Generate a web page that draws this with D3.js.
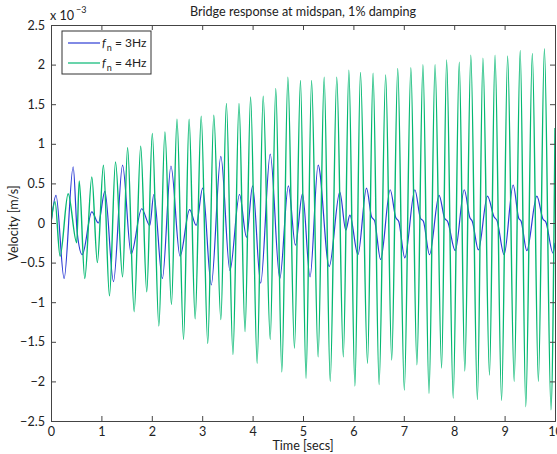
<!DOCTYPE html>
<html>
<head>
<meta charset="utf-8">
<script src="https://cdn.jsdelivr.net/npm/d3@7"></script>
<style>
  html, body { margin: 0; padding: 0; background: #fff; }
  svg { display: block; font-family: Lato, "Open Sans", sans-serif; }
</style>
</head>
<body>
<svg id="chart" width="557" height="454"></svg>
<script>
// Velocity at bridge midspan (units of 1e-3 m/s), read as successive extrema of each trace.
// f_n = 3 Hz
const blueT = [0.00, 0.10, 0.26, 0.44, 0.52, 0.62, 0.81, 0.94, 1.07, 1.24, 1.42, 1.59, 1.80, 1.96, 2.04,
  2.21, 2.38, 2.56, 2.75, 2.88, 3.01, 3.18, 3.37, 3.55, 3.74, 3.88, 4.00, 4.16, 4.35, 4.54,
  4.71, 4.85, 4.99, 5.14, 5.30, 5.52, 5.73, 5.85, 5.93, 6.09, 6.26, 6.36, 6.42, 6.54, 6.73,
  6.84, 6.90, 7.02, 7.22, 7.33, 7.39, 7.51, 7.70, 7.81, 7.87, 8.02, 8.20, 8.31, 8.36, 8.48,
  8.66, 8.79, 8.85, 8.99, 9.17, 9.28, 9.33, 9.44, 9.64, 9.76, 9.82, 9.96, 10.00];
const blueV = [0.00, 0.35, -0.70, 0.71, -0.12, -0.40, 0.14, 0.00, 0.40, -0.74, 0.73, -0.39, 0.18, -0.03, 0.36,
  -0.70, 0.72, -0.42, 0.17, -0.03, 0.44, -0.78, 0.84, -0.60, 0.36, -0.18, 0.47, -0.76, 0.87, -0.70,
  0.47, -0.28, 0.37, -0.68, 0.73, -0.55, 0.39, -0.09, 0.10, -0.40, 0.44, 0.08, 0.03, -0.46, 0.42,
  0.07, 0.02, -0.44, 0.42, 0.06, 0.02, -0.40, 0.35, 0.06, 0.02, -0.35, 0.42, 0.07, 0.02, -0.34,
  0.34, 0.08, 0.03, -0.40, 0.48, 0.06, 0.02, -0.35, 0.34, 0.05, 0.01, -0.38, -0.25];

// f_n = 4 Hz
const greenT = [0.00, 0.08, 0.18, 0.34, 0.51, 0.56, 0.67, 0.81, 0.92, 1.04, 1.16, 1.28, 1.42, 1.52, 1.65,
  1.78, 1.90, 2.01, 2.14, 2.26, 2.39, 2.50, 2.63, 2.74, 2.86, 2.98, 3.11, 3.23, 3.37, 3.48,
  3.61, 3.73, 3.85, 3.96, 4.09, 4.21, 4.35, 4.46, 4.58, 4.70, 4.83, 4.95, 5.06, 5.17, 5.30,
  5.42, 5.54, 5.67, 5.80, 5.91, 6.03, 6.14, 6.28, 6.39, 6.51, 6.64, 6.76, 6.88, 7.01, 7.14,
  7.26, 7.38, 7.50, 7.62, 7.75, 7.85, 7.98, 8.10, 8.21, 8.33, 8.46, 8.57, 8.70, 8.81, 8.94,
  9.06, 9.19, 9.31, 9.42, 9.55, 9.67, 9.79, 9.92, 10.00];
const greenV = [0.00, 0.27, -0.42, 0.37, -0.25, 0.53, -0.70, 0.58, -0.50, 0.73, -0.92, 0.77, -0.68, 0.95, -1.12,
  0.97, -0.87, 1.13, -1.30, 1.15, -1.03, 1.31, -1.47, 1.31, -1.21, 1.35, -1.52, 1.36, -1.22, 1.51,
  -1.66, 1.51, -1.37, 1.59, -1.77, 1.60, -1.47, 1.70, -1.88, 1.84, -1.58, 1.80, -1.96, 1.80, -1.69,
  1.84, -2.00, 1.84, -1.69, 1.93, -2.06, 1.90, -1.77, 1.89, -2.04, 1.87, -1.73, 1.95, -2.11, 1.96,
  -1.79, 2.00, -2.15, 2.00, -1.83, 2.06, -2.21, 2.03, -1.87, 2.12, -2.23, 2.08, -1.92, 2.12, -2.24,
  2.11, -2.00, 2.18, -2.32, 2.14, -2.00, 2.20, -2.36, 1.20];

const xTicks = [0, 1, 2, 3, 4, 5, 6, 7, 8, 9, 10];
const yTicks = [-2.5, -2, -1.5, -1, -0.5, 0, 0.5, 1, 1.5, 2, 2.5];
const seriesNames = ["3Hz", "4Hz"];
const seriesColors = ["#2c3cd4", "#05b872"];

const svg = d3.select("#chart");
const plot = { left: 51, right: 555, top: 25, bottom: 421 };
const fontSize = 12.6;

const x = d3.scaleLinear().domain([0, 10]).range([plot.left, plot.right]);
const y = d3.scaleLinear().domain([-2.5, 2.5]).range([plot.bottom, plot.top]);

const axisColor = "#444";
const textColor = "#222";
const fmt = d => d3.format("")(d).replace("-", "\u2212");

svg.append("clipPath").attr("id", "clip")
  .append("rect")
  .attr("x", plot.left).attr("y", plot.top)
  .attr("width", plot.right - plot.left).attr("height", plot.bottom - plot.top);

// Traces
const line = d3.line()
  .x(d => x(d[0]))
  .y(d => y(d[1]))
  .curve(d3.curveMonotoneX);

const traces = [d3.zip(blueT, blueV), d3.zip(greenT, greenV)];
const g = svg.append("g").attr("clip-path", "url(#clip)");
traces.forEach((pts, i) => {
  g.append("path")
    .datum(pts)
    .attr("d", line)
    .attr("fill", "none")
    .attr("stroke", seriesColors[i])
    .attr("stroke-width", i === 1 ? 1.4 : 1.2)
    .attr("stroke-linejoin", "round");
});

// Axes box with inward ticks on all four sides
const tickLen = 5;
const axB = svg.append("g").attr("transform", `translate(0,${plot.bottom})`)
  .call(d3.axisBottom(x).tickValues(xTicks).tickSize(-tickLen).tickPadding(5).tickFormat(fmt));
const axT = svg.append("g").attr("transform", `translate(0,${plot.top})`)
  .call(d3.axisTop(x).tickValues(xTicks).tickSize(-tickLen).tickFormat(""));
const axL = svg.append("g").attr("transform", `translate(${plot.left},0)`)
  .call(d3.axisLeft(y).tickValues(yTicks).tickSize(-tickLen).tickPadding(6).tickFormat(fmt));
const axR = svg.append("g").attr("transform", `translate(${plot.right},0)`)
  .call(d3.axisRight(y).tickValues(yTicks).tickSize(-tickLen).tickFormat(""));

[axB, axT, axL, axR].forEach(a => {
  a.select(".domain").attr("stroke", axisColor).attr("stroke-width", 1);
  a.selectAll(".tick line").attr("stroke", axisColor);
  a.selectAll("text").attr("fill", textColor).attr("font-size", fontSize)
    .attr("font-family", "Lato, 'Open Sans', sans-serif");
});
axB.selectAll(".tick text").attr("dy", "0.8em");

// Exponent label
const expo = svg.append("text").attr("x", 50).attr("y", 20)
  .attr("font-size", fontSize).attr("fill", textColor);
expo.append("tspan").text("x 10");
expo.append("tspan").attr("font-size", 9).attr("dx", 2).attr("dy", -7).text("\u22123");

// Title and axis labels
svg.append("text").attr("x", (plot.left + plot.right) / 2).attr("y", 16)
  .attr("text-anchor", "middle").attr("font-size", fontSize).attr("fill", textColor)
  .text("Bridge response at midspan, 1% damping");
svg.append("text").attr("x", (plot.left + plot.right) / 2).attr("y", 450)
  .attr("text-anchor", "middle").attr("font-size", fontSize).attr("fill", textColor)
  .text("Time [secs]");
svg.append("text")
  .attr("transform", `translate(18,${(plot.top + plot.bottom) / 2}) rotate(-90)`)
  .attr("text-anchor", "middle").attr("font-size", fontSize).attr("fill", textColor)
  .text("Velocity [m/s]");

// Legend
const lg = svg.append("g");
lg.append("rect").attr("x", 62).attr("y", 31).attr("width", 89).attr("height", 43)
  .attr("fill", "#fff").attr("stroke", "#333").attr("stroke-width", 1);
seriesNames.forEach((name, i) => {
  const ly = 43 + i * 20;
  lg.append("line").attr("x1", 68).attr("x2", 100).attr("y1", ly).attr("y2", ly)
    .attr("stroke", seriesColors[i]).attr("stroke-width", 1.2);
  const t = lg.append("text").attr("x", 102).attr("y", ly + 4)
    .attr("font-size", 12).attr("fill", textColor);
  t.append("tspan").attr("font-style", "italic").text("f");
  t.append("tspan").attr("font-size", 9).attr("dy", 4).attr("dx", 1).text("n");
  t.append("tspan").attr("dy", -4).text(" = " + name);
});
</script>
</body>
</html>
